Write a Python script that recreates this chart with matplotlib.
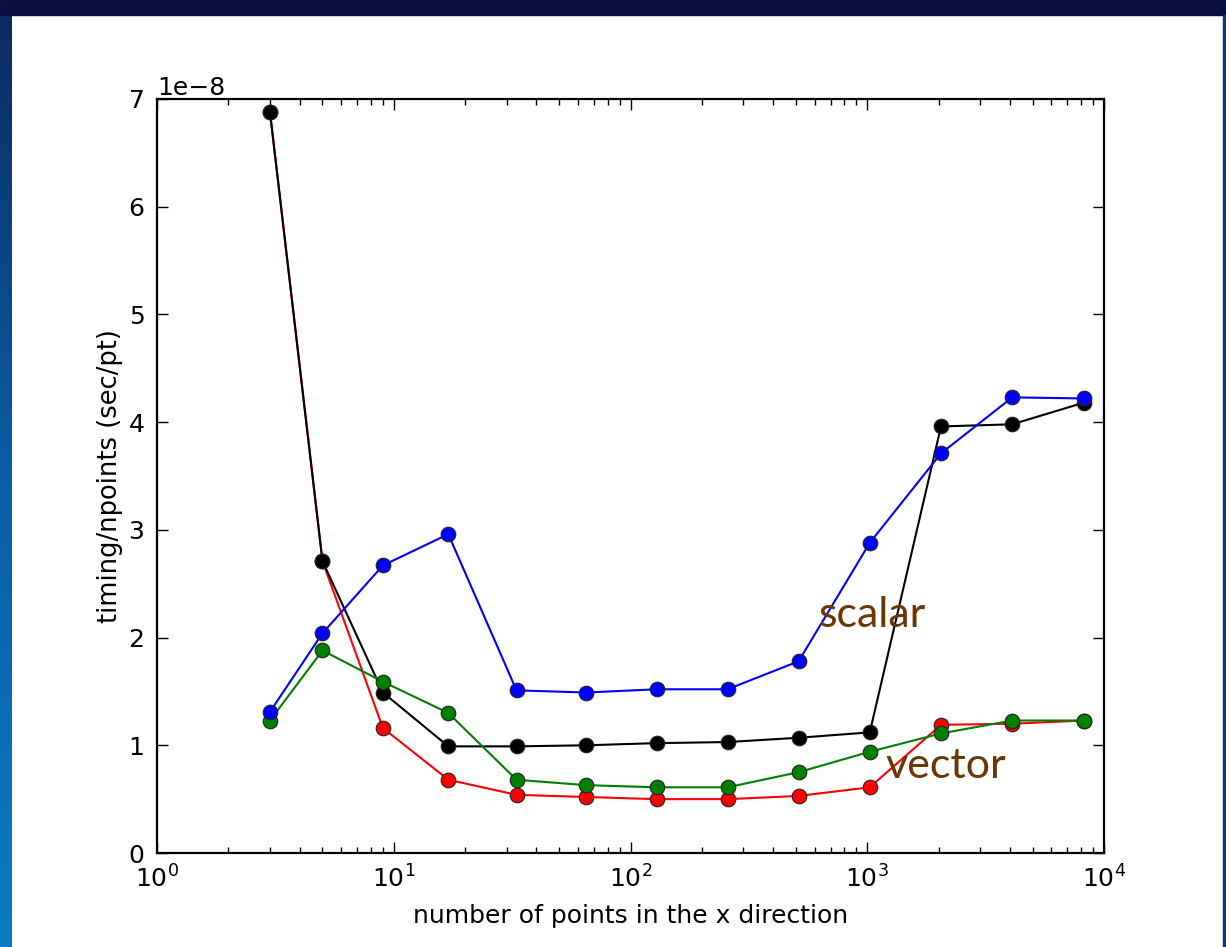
import numpy as np
import matplotlib
matplotlib.use("Agg")
import matplotlib.pyplot as plt
from matplotlib.patches import Rectangle
from matplotlib.ticker import LogLocator
from matplotlib.colors import LinearSegmentedColormap

# Grid sizes (points in x) and timing per point for each variant
npts = [3, 5, 9, 17, 33, 65, 129, 257, 513, 1025, 2049, 4097, 8193]
t_black = [6.88, 2.71, 1.49, 0.99, 0.99, 1.00, 1.02, 1.03, 1.07, 1.12, 3.96, 3.98, 4.18]
t_blue = [1.31, 2.04, 2.67, 2.96, 1.51, 1.49, 1.52, 1.52, 1.78, 2.88, 3.71, 4.23, 4.22]
t_green = [1.23, 1.88, 1.59, 1.30, 0.68, 0.63, 0.61, 0.61, 0.75, 0.94, 1.11, 1.23, 1.23]
t_red = [6.88, 2.71, 1.16, 0.68, 0.54, 0.52, 0.50, 0.50, 0.53, 0.61, 1.19, 1.20, 1.23]
scale = 1e-8

W, H = 1226, 947
fig = plt.figure(figsize=(W / 100, H / 100), dpi=100, facecolor="white")

# slide frame
fig.patches.append(Rectangle((0, 1 - 15 / H), 1, 15 / H, transform=fig.transFigure,
                             color="#0b0f3f", zorder=0))
fig.patches.append(Rectangle((1223 / W, 0), 3 / W, 1 - 15 / H, transform=fig.transFigure,
                             color="#0d3a70", zorder=0))
gax = fig.add_axes([0, 0, 12 / W, 1 - 15 / H])
grad = np.linspace(0, 1, 256).reshape(-1, 1)
cm = LinearSegmentedColormap.from_list("edge", ["#0a2c60", "#0a5ea6", "#0a7cc4"])
gax.imshow(grad, aspect="auto", cmap=cm, origin="upper")
gax.set_axis_off()

ax = fig.add_axes([157 / W, (H - 853) / H, 947 / W, 754 / H])

x = np.array(npts)
style = dict(marker="o", markersize=10.5, markeredgecolor="#222222", markeredgewidth=0.8, lw=1.5)
ax.plot(x, np.array(t_red) * scale, color="red", markerfacecolor="red", **style)
ax.plot(x, np.array(t_black) * scale, color="black", markerfacecolor="black", **style)
ax.plot(x, np.array(t_green) * scale, color="green", markerfacecolor="green", **style)
ax.plot(x, np.array(t_blue) * scale, color="blue", markerfacecolor="blue", **style)

ax.set_xscale("log")
ax.set_xlim(1, 1e4)
ax.set_ylim(0, 7e-8)
ax.set_yticks(np.arange(0, 8) * 1e-8)
ax.xaxis.set_minor_locator(LogLocator(base=10, subs=np.arange(2, 10), numticks=20))

for s in ax.spines.values():
    s.set_linewidth(1.6)
ax.tick_params(which="both", direction="in", top=True, right=True, labelsize=18, pad=9)
ax.tick_params(which="major", length=8, width=1)
ax.tick_params(which="minor", length=4, width=1)
ax.yaxis.get_offset_text().set_fontsize(18)

ax.set_xlabel("number of points in the x direction", fontsize=18, labelpad=8)
ax.set_ylabel("timing/npoints (sec/pt)", fontsize=18.5, labelpad=4)

ax.text(620, 2.1e-8, "scalar", color="#6a3706", fontsize=31, family="Lato")
ax.text(1190, 0.70e-8, "vector", color="#6a3706", fontsize=31, family="Lato")

fig.savefig("out.png", dpi=100, facecolor="white")
